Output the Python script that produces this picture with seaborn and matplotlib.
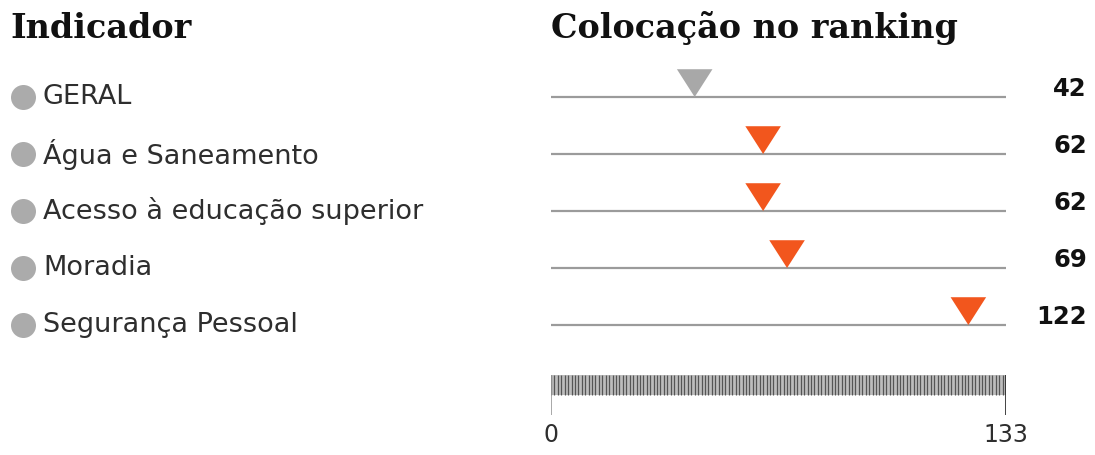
import numpy as np
import pandas as pd
import matplotlib
matplotlib.use("Agg")
import matplotlib.pyplot as plt
import matplotlib.transforms as mtransforms
from matplotlib.path import Path
import seaborn as sns

# data
indicadores = ["GERAL", "Água e Saneamento", "Acesso à educação superior",
               "Moradia", "Segurança Pessoal"]
ranking = [42, 62, 62, 69, 122]
grupo = ["geral", "item", "item", "item", "item"]
total_paises = 133

df = pd.DataFrame({"indicador": indicadores, "rank": ranking, "grupo": grupo})

sns.set_theme(style="white")
plt.rcParams["font.family"] = ["DejaVu Sans"]

ORANGE = "#F2561D"
GRAY_TRI = "#A8A8A8"
LINE = "#9B9B9B"
TEXT = "#2E2E2E"

fig = plt.figure(figsize=(10.95, 4.55), dpi=100)
# x axis: 0 -> px 551, 133 -> px 1006 ; rows spaced 57 px starting at px 97
ax = fig.add_axes([551 / 1095, 0, 455 / 1095, 1])

n = len(indicadores)
ax.hlines(range(n), -0.6, total_paises + 0.3, color=LINE, lw=1.6, zorder=1)

# triangle marker with its tip at the data point
tri = Path([(-0.64, 1.0), (0.64, 1.0), (0.0, 0.0), (-0.64, 1.0)],
           [Path.MOVETO, Path.LINETO, Path.LINETO, Path.CLOSEPOLY])
sns.scatterplot(data=df, x="rank", y="indicador", hue="grupo",
                palette={"geral": GRAY_TRI, "item": ORANGE},
                marker=tri, s=1600, linewidth=0, legend=False, ax=ax, zorder=3)
ax.set_xlim(0, total_paises)
ax.set_ylim((455 - 97) / 57, -97 / 57)
ax.axis("off")

# left labels and values on the right
trans = mtransforms.blended_transform_factory(fig.transFigure, ax.transData)
for i, (lab, r) in enumerate(zip(indicadores, ranking)):
    ax.plot([23 / 1095], [i], "o", ms=18, color="#ABABAB", mec="none",
            transform=trans, clip_on=False)
    ax.text(43 / 1095, i, lab, transform=trans, ha="left", va="center",
            fontsize=19.5, color=TEXT)
    ax.text(1087 / 1095, i - 0.14, str(r), transform=trans, ha="right",
            va="center", fontsize=17.5, fontweight="bold", color="#111111")

# barcode scale with one tick per country
y_top = (375 - 97) / 57
y_bot = (395 - 97) / 57
ax.fill_between([0, total_paises], y_top, y_bot, color="#BDBDBD", lw=0, zorder=0)
ax.vlines(np.arange(0, total_paises + 1), y_top, y_bot, color="#555555", lw=0.9)
ax.vlines([0], y_top, (415 - 97) / 57, color="#9A9A9A", lw=1.2)
ax.vlines([total_paises], y_top, (415 - 97) / 57, color="#222222", lw=1.2)
ax.text(0, (435 - 97) / 57, "0", ha="center", va="center", fontsize=17, color=TEXT)
ax.text(total_paises, (435 - 97) / 57, str(total_paises), ha="center",
        va="center", fontsize=17, color=TEXT)

# headers
fig.text(10 / 1095, 1 - 28 / 455, "Indicador", ha="left", va="center",
         fontsize=24, fontweight="bold", family="DejaVu Serif", color="#111111")
fig.text(551 / 1095, 1 - 28 / 455, "Colocação no ranking", ha="left",
         va="center", fontsize=24, fontweight="bold", family="DejaVu Serif",
         color="#111111")

fig.savefig("out.png", dpi=100, facecolor="white")
